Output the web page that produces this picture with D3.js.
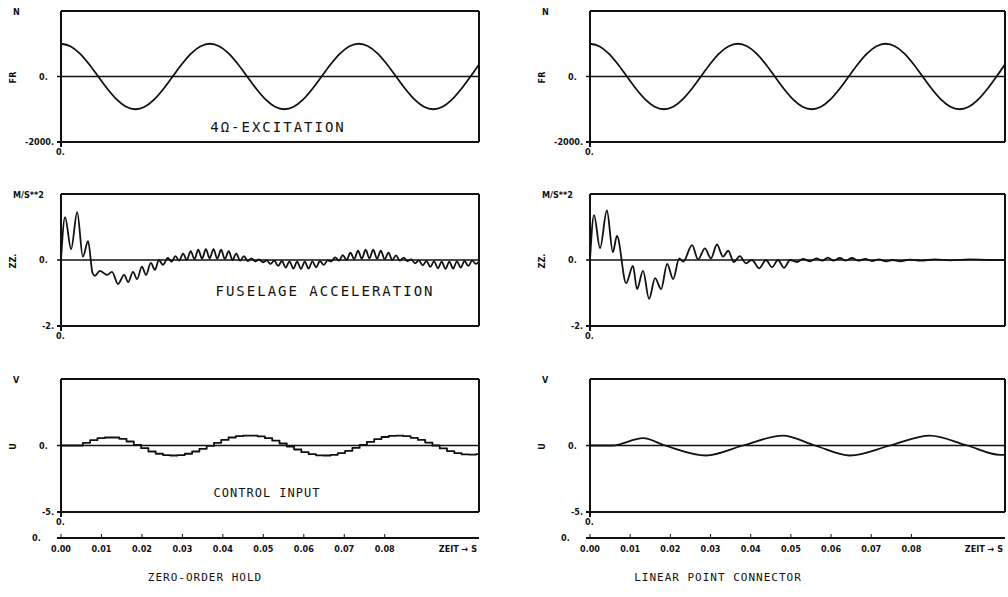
<!DOCTYPE html>
<html>
<head>
<meta charset="utf-8">
<script src="https://cdn.jsdelivr.net/npm/d3@7"></script>
<style>
body { margin: 0; background: #fff; }
.lbl { font-family: "DejaVu Sans Condensed", "DejaVu Sans", sans-serif; font-weight: bold; font-size: 9px; fill: #111; }
.ttl { font-family: "DejaVu Sans Mono", monospace; font-size: 14px; letter-spacing: 2px; fill: #111; }
.sub { font-family: "DejaVu Sans Mono", monospace; font-size: 11px; letter-spacing: 1px; fill: #111; }
</style>
</head>
<body>
<div id="viz"></div>
<script>
const width = 1008, height = 597;

// excitation force (same on both sides), N, one value every 0.0023 s
const excStep = 0.0023;
const excF = [1000, 924, 707, 383, 0, -383, -707, -924, -1000, -924, -707, -383, 0, 383, 707, 924,
  1000, 924, 707, 383, 0, -383, -707, -924, -1000, -924, -707, -383, 0, 383, 707, 924,
  1000, 924, 707, 383, 0, -383, -707, -924, -1000, -924, -707, -383, 0, 370];

// fuselage acceleration, zero-order hold: transient part
const zohAccT = [0, 0.0010, 0.0025, 0.0040, 0.0054, 0.0067, 0.0078, 0.0084, 0.0096, 0.0114, 0.0126, 0.0141,
  0.0156, 0.0166, 0.0178, 0.0188, 0.0200, 0.0210, 0.0222, 0.0232, 0.0242, 0.0252];
const zohAccV = [0, 1.3, 0.33, 1.45, 0.1, 0.57, -0.4, -0.48, -0.33, -0.45, -0.36, -0.73,
  -0.45, -0.67, -0.36, -0.58, -0.2, -0.45, -0.09, -0.3, 0.0, -0.15];
// zero-order hold: ripple peaks/troughs, one every half ripple period
const zohRippleStart = 0.0264, zohRippleStep = 0.00094;
const zohRipple = [
  0.06, -0.05, 0.12, -0.02, 0.2, 0.0, 0.27, 0.03, 0.31, 0.04, 0.33, 0.05, 0.33, 0.04, 0.31, 0.03, 0.27, 0.0, 0.2, -0.02, 0.12, -0.03,
  0.05, -0.04, 0.02, -0.07,
  -0.01, -0.12, -0.02, -0.18, -0.03, -0.23, -0.04, -0.26, -0.05, -0.27, -0.05, -0.26, -0.04, -0.22, -0.03, -0.15, -0.01,
  -0.04, 0.08, -0.02, 0.15, 0.0, 0.22, 0.03, 0.28, 0.04, 0.31, 0.05, 0.31, 0.04, 0.28, 0.02, 0.22, 0.0, 0.14, -0.02, 0.07, -0.03,
  0.02, -0.1, -0.01, -0.16, -0.03, -0.21, -0.04, -0.25, -0.05, -0.27, -0.05, -0.26, -0.04, -0.23, -0.03, -0.18, -0.02, -0.12,
  -0.05];

// fuselage acceleration, linear point connector
const linAccT = [0, 0.0010, 0.0025, 0.0042, 0.0057, 0.0067, 0.0090, 0.0107, 0.0117, 0.0132, 0.0147, 0.0162, 0.0177,
  0.0192, 0.0207, 0.0222, 0.0232, 0.0254, 0.0269, 0.0286, 0.0301, 0.0316, 0.0331, 0.0344, 0.0358, 0.0373, 0.0388,
  0.0403, 0.0421, 0.0438, 0.0453, 0.0468, 0.0483, 0.0498, 0.0515, 0.0530, 0.0548, 0.0563, 0.0578, 0.0592, 0.0607,
  0.0622, 0.0637, 0.0652, 0.0667, 0.0685, 0.0702, 0.0719, 0.0737, 0.0754, 0.0772, 0.0797, 0.0822, 0.0859, 0.0896,
  0.0946, 0.0996, 0.1033];
const linAccV = [0, 1.36, 0.36, 1.5, 0.24, 0.73, -0.7, -0.18, -0.88, -0.33, -1.18, -0.55, -0.88,
  -0.12, -0.58, 0.05, -0.05, 0.45, 0.02, 0.35, 0.05, 0.47, 0.1, 0.28, -0.06, 0.12, -0.1,
  0.0, -0.25, 0.0, -0.22, 0.0, -0.24, 0.0, -0.06, 0.03, -0.04, 0.05, -0.02, 0.07, -0.02,
  0.06, -0.02, 0.06, -0.02, 0.03, -0.03, 0.02, -0.04, 0.0, -0.04, 0.01, -0.02, 0.02, -0.01,
  0.02, 0.0, 0.0];

// control input, zero-order hold (held samples)
const zohHold = 0.0018;
const zohU = [0, 0, 0, 0.2, 0.4, 0.55, 0.6, 0.6, 0.5, 0.3, 0.05, -0.2, -0.45, -0.62, -0.72, -0.75, -0.72, -0.62,
  -0.45, -0.25, -0.03, 0.2, 0.42, 0.6, 0.7, 0.75, 0.75, 0.68, 0.55, 0.37, 0.15, -0.08, -0.3, -0.5, -0.65, -0.74,
  -0.75, -0.7, -0.57, -0.4, -0.18, 0.05, 0.28, 0.48, 0.64, 0.73, 0.75, 0.7, 0.58, 0.42, 0.22, 0.0, -0.22, -0.42,
  -0.57, -0.66, -0.68, -0.65];

// control input, linear point connector
const linUT = [0, 0.0055, 0.0132, 0.0187, 0.0289, 0.0381, 0.0480, 0.0560, 0.0647, 0.0747, 0.0846, 0.0939, 0.1021, 0.1033];
const linUV = [0, 0, 0.55, 0, -0.75, 0, 0.75, 0, -0.75, 0, 0.75, 0, -0.7, -0.7];

const timeTicks = [0, 0.01, 0.02, 0.03, 0.04, 0.05, 0.06, 0.07, 0.08];
const rowUnits = ["N", "M/S**2", "V"];
const rowNames = ["FR", "ZZ.", "U"];
const rowMin = ["-2000.", "-2.", "-5."];
const rowTitles = ["4\u03A9-EXCITATION", "FUSELAGE ACCELERATION", "CONTROL INPUT"];
const colTitles = ["ZERO-ORDER HOLD", "LINEAR POINT CONNECTOR"];

const tEnd = 0.1033;
const svg = d3.select("#viz").append("svg").attr("width", width).attr("height", height);

const xs = [
  d3.scaleLinear().domain([0, tEnd]).range([61, 479]),
  d3.scaleLinear().domain([0, tEnd]).range([590, 1005])
];
const ys = [
  d3.scaleLinear().domain([-2000, 2000]).range([142, 11]),
  d3.scaleLinear().domain([-2, 2]).range([326, 194]),
  d3.scaleLinear().domain([-5, 5]).range([512, 379])
];

const exc = excF.map((v, i) => [Math.min(i * excStep, tEnd), v]);
const zohAcc = zohAccT.map((t, i) => [t, zohAccV[i]])
  .concat(zohRipple.map((v, i) => [Math.min(zohRippleStart + i * zohRippleStep, tEnd), v]));
const series = [
  [exc, exc],
  [zohAcc, d3.zip(linAccT, linAccV)],
  [zohU.map((v, i) => [i * zohHold, v]).concat([[tEnd, zohU[zohU.length - 1]]]), d3.zip(linUT, linUV)]
];
const curves = [
  [d3.curveMonotoneX, d3.curveMonotoneX],
  [d3.curveMonotoneX, d3.curveMonotoneX],
  [d3.curveStepAfter, d3.curveMonotoneX]
];

const line = (a, b, c, d, w) => svg.append("line")
  .attr("x1", a).attr("y1", b).attr("x2", c).attr("y2", d)
  .attr("stroke", "#111").attr("stroke-width", w || 1.8);

xs.forEach((x, ci) => {
  const x0 = x.range()[0], x1 = x.range()[1];
  ys.forEach((y, ri) => {
    const top = y.range()[1], bot = y.range()[0], zero = y(0);
    // frame
    line(x0, top, x0, bot + 5, 2);
    line(x0, top, x1, top, 2);
    line(x1, top, x1, bot, 2);
    line(x0 - 4, bot, x1, bot, 2);
    line(x0 - 4, zero, x1, zero, 1.6);

    svg.append("text").attr("class", "lbl").attr("x", x0 - 48).attr("y", top + 4).text(rowUnits[ri]);
    svg.append("text").attr("class", "lbl").attr("text-anchor", "middle")
      .attr("transform", `translate(${x0 - 45},${zero + 1}) rotate(-90)`).text(rowNames[ri]);
    svg.append("text").attr("class", "lbl").attr("x", x0 - 22).attr("y", zero + 3).text("0.");
    svg.append("text").attr("class", "lbl").attr("text-anchor", "end").attr("x", x0 - 7).attr("y", bot + 3).text(rowMin[ri]);
    svg.append("text").attr("class", "lbl").attr("x", x0 - 5).attr("y", bot + 13).text("0.");

    svg.append("path")
      .datum(series[ri][ci])
      .attr("fill", "none")
      .attr("stroke", "#111")
      .attr("stroke-width", 1.8)
      .attr("stroke-linejoin", "round")
      .attr("d", d3.line().x(d => x(d[0])).y(d => y(d[1])).curve(curves[ri][ci]));
  });

  // time axis
  const ta = 538;
  line(x0 - 4, ta, x1, ta, 2);
  svg.append("text").attr("class", "lbl").attr("x", x0 - 29).attr("y", ta + 3).text("0.");
  timeTicks.forEach(t => {
    line(x(t), ta - 4, x(t), ta, 1);
    svg.append("text").attr("class", "lbl").attr("text-anchor", "middle")
      .attr("x", x(t)).attr("y", ta + 14).text(d3.format(".2f")(t));
  });
  svg.append("text").attr("class", "lbl").attr("text-anchor", "end")
    .attr("x", x1 - 2).attr("y", ta + 14).text("ZEIT \u2192 S");

  svg.append("text").attr("class", "sub").attr("text-anchor", "middle")
    .attr("x", ci === 0 ? 205 : 718).attr("y", 581).text(colTitles[ci]);
});

// titles inside the left panels
const titleX = [278, 325, 267];
const titleY = [132, 296, 497];
const titleSize = [14, 14, 12];
const titleSpacing = [2, 2, 1];
rowTitles.forEach((t, i) => {
  svg.append("text").attr("class", "ttl").attr("text-anchor", "middle")
    .style("font-size", titleSize[i] + "px").style("letter-spacing", titleSpacing[i] + "px")
    .attr("x", titleX[i]).attr("y", titleY[i]).text(t);
});
</script>
</body>
</html>
